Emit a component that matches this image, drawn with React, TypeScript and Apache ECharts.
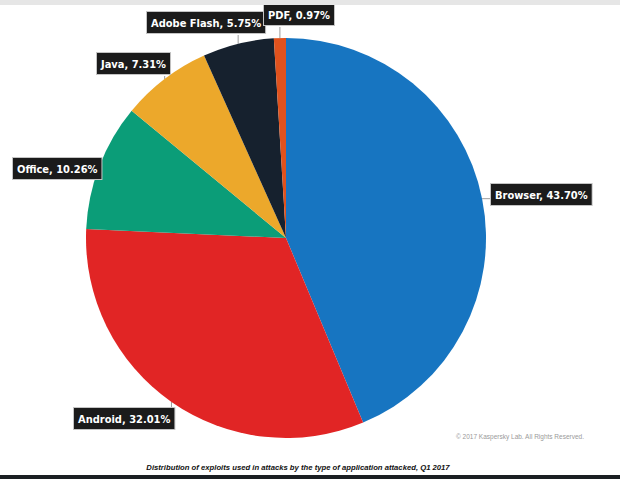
import React, { useEffect, useRef } from "react";
import * as echarts from "echarts";

const categories = ["Browser", "Android", "Office", "Java", "Adobe Flash", "PDF"];
const shares = [43.7, 32.01, 10.26, 7.31, 5.75, 0.97];
const sliceColors = ["#1775c1", "#e12525", "#0b9d78", "#eca82b", "#16212e", "#e0521d"];
const captionText =
  "Distribution of exploits used in attacks by the type of application attacked, Q1 2017";
const copyrightText = "\u00a9 2017 Kaspersky Lab. All Rights Reserved.";

// top-left corners of the label boxes (layout only)
const LABEL_BOX: [number, number][] = [
  [491, 184],
  [74, 408],
  [13, 158],
  [97, 53],
  [147, 12],
  [264, 4],
];

const LABEL_FONT = "'Liberation Sans Narrow', 'DejaVu Sans Condensed', 'Roboto Condensed', sans-serif";

export default function App() {
  const ref = useRef<HTMLDivElement>(null);

  useEffect(() => {
    if (!ref.current) return;
    const chart = echarts.init(ref.current, undefined, { renderer: "svg" });

    const option: any = {
      animation: false,
      backgroundColor: "#ffffff",
      graphic: [
        { type: "rect", shape: { x: 0, y: 0, width: 620, height: 5 }, style: { fill: "#e6e6e6" }, z: 10 },
        { type: "rect", shape: { x: 0, y: 475, width: 620, height: 4 }, style: { fill: "#1b1f23" }, z: 10 },
        {
          type: "text",
          x: 584,
          y: 436,
          style: {
            text: copyrightText,
            fill: "#9a9a9a",
            fontSize: 6.5,
            fontFamily: "'Liberation Sans', Arial, sans-serif",
            align: "right",
            verticalAlign: "middle",
            textAlign: "right",
            textVerticalAlign: "middle",
          },
          z: 10,
        },
        {
          type: "text",
          x: 298,
          y: 467,
          style: {
            text: captionText,
            fill: "#111111",
            fontSize: 7.7,
            fontWeight: "bold",
            fontStyle: "italic",
            fontFamily: "'Liberation Sans', Arial, sans-serif",
            align: "center",
            verticalAlign: "middle",
            textAlign: "center",
            textVerticalAlign: "middle",
          },
          z: 10,
        },
      ],
      series: [
        {
          type: "pie",
          center: [286, 238],
          radius: 200,
          startAngle: 90,
          clockwise: true,
          avoidLabelOverlap: false,
          emphasis: { disabled: true },
          itemStyle: { borderWidth: 0 },
          data: categories.map((name, i) => ({
            name,
            value: shares[i],
            itemStyle: { color: sliceColors[i] },
          })),
          label: {
            show: true,
            position: "outside",
            formatter: (p: any) => `${p.name}, ${Number(p.value).toFixed(2)}%`,
            color: "#ffffff",
            backgroundColor: "#1b1b1b",
            borderColor: "#c4c4c4",
            borderWidth: 1,
            padding: [4, 4, 3, 4],
            fontSize: 11,
            lineHeight: 14,
            fontWeight: "bold",
            fontFamily: LABEL_FONT,
          },
          labelLine: {
            show: true,
            length: 6,
            length2: 4,
            lineStyle: { color: "#9c9c9c", width: 1 },
          },
          labelLayout: (params: any) => {
            const pos = LABEL_BOX[params.dataIndex];
            if (!pos) return {};
            const w = params.labelRect.width;
            const h = params.labelRect.height;
            const [bx, by] = pos;
            const pts = params.labelLinePoints;
            const res: any = { x: bx, y: by, align: "left", verticalAlign: "top" };
            if (pts && pts[0]) {
              const a = pts[0];
              const cx = Math.min(Math.max(a[0], bx), bx + w);
              const cy = Math.min(Math.max(a[1], by), by + h);
              res.labelLinePoints = [
                [a[0], a[1]],
                [cx, cy],
                [cx, cy],
              ];
            }
            return res;
          },
        },
      ],
    };

    chart.setOption(option);
    return () => chart.dispose();
  }, []);

  return (
    <div
      ref={ref}
      style={{ position: "fixed", left: 0, top: 0, width: 620, height: 479, background: "#fff" }}
    />
  );
}
